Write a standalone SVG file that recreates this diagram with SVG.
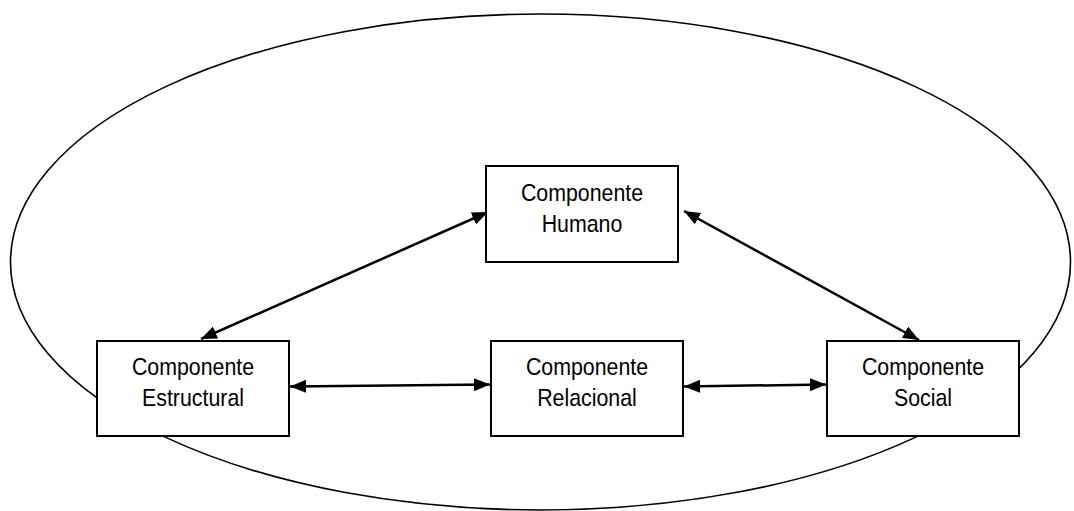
<svg xmlns="http://www.w3.org/2000/svg" width="1074" height="511" viewBox="0 0 1074 511">
  <style>
    .box { fill: #ffffff; stroke: #000000; stroke-width: 2; }
    .lbl { font-family: "Liberation Sans", Arial, sans-serif; font-size: 24px; fill: #000000; text-anchor: middle; }
    .conn { stroke: #000000; stroke-width: 2.5; fill: none; marker-start: url(#ah); marker-end: url(#ah); }
  </style>
  <defs>
    <marker id="ah" markerUnits="userSpaceOnUse" markerWidth="17" markerHeight="14" refX="16" refY="6.5" orient="auto-start-reverse">
      <path d="M0,0 L16,6.5 L0,13 z" fill="#000000"/>
    </marker>
  </defs>
  <rect width="1074" height="511" fill="#ffffff"/>
  <ellipse id="boundary" cx="540.5" cy="262" rx="530" ry="248" fill="none" stroke="#000000" stroke-width="1.6"/>

  <g id="connectors">
    <line class="conn" x1="201" y1="339" x2="488" y2="212"/>
    <line class="conn" x1="684" y1="211" x2="919" y2="340"/>
    <line class="conn" x1="290" y1="386.5" x2="490" y2="384.5"/>
    <line class="conn" x1="684" y1="386.5" x2="826" y2="384.5"/>
  </g>

  <g id="humano">
    <rect class="box" x="486" y="166" width="192" height="96"/>
    <g transform="translate(582,0) scale(0.89,1)">
      <text class="lbl" x="0" y="201">Componente</text>
      <text class="lbl" x="0" y="232">Humano</text>
    </g>
  </g>
  <g id="estructural">
    <rect class="box" x="97" y="341" width="192" height="95"/>
    <g transform="translate(193,0) scale(0.89,1)">
      <text class="lbl" x="0" y="375">Componente</text>
      <text class="lbl" x="0" y="406">Estructural</text>
    </g>
  </g>
  <g id="relacional">
    <rect class="box" x="491" y="341" width="192" height="95"/>
    <g transform="translate(587,0) scale(0.89,1)">
      <text class="lbl" x="0" y="375">Componente</text>
      <text class="lbl" x="0" y="406">Relacional</text>
    </g>
  </g>
  <g id="social">
    <rect class="box" x="827" y="341" width="192" height="95"/>
    <g transform="translate(923,0) scale(0.89,1)">
      <text class="lbl" x="0" y="375">Componente</text>
      <text class="lbl" x="0" y="406">Social</text>
    </g>
  </g>
</svg>
